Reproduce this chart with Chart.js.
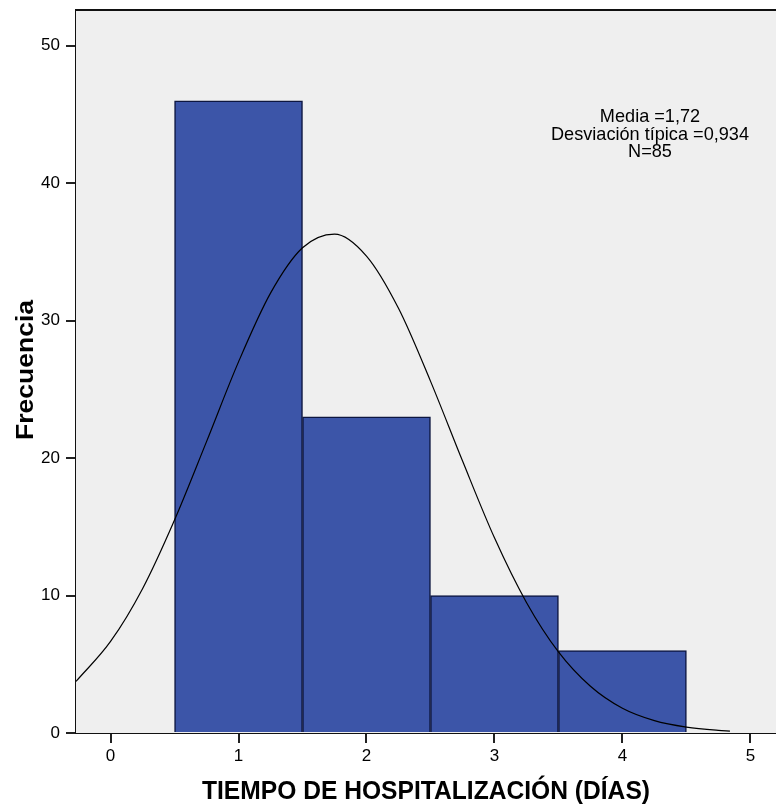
<!DOCTYPE html>
<html>
<head>
<meta charset="utf-8">
<script src="https://cdn.jsdelivr.net/npm/chart.js@4.4.1/dist/chart.umd.min.js"></script>
<style>
  html, body { margin: 0; padding: 0; background: #ffffff; }
  #wrap { width: 776px; height: 808px; position: relative; }
</style>
</head>
<body>
<div id="wrap"><canvas id="histo"></canvas></div>
<script>
// histogram bins (centres) and frequencies
const binCentres = [1, 2, 3, 4];
const frequencies = [46, 23, 10, 6];

// normal curve
const curveX = [-0.27, 0, 0.25, 0.5, 0.75, 1, 1.25, 1.5, 1.75, 2, 2.25, 2.5, 2.75, 3, 3.25, 3.5, 3.75, 4, 4.25, 4.5, 4.75, 4.84];
const curveY = [3.75, 6.66, 10.5, 15.5, 21.2, 27.0, 32.0, 35.3, 36.3, 34.7, 30.9, 25.6, 19.8, 14.2, 9.5, 5.9, 3.4, 1.8, 0.9, 0.43, 0.19, 0.14];

const xTicks = [0, 1, 2, 3, 4, 5];
const yTicks = [0, 10, 20, 30, 40, 50];
const statLines = ['Media =1,72', 'Desviación típica =0,934', 'N=85'];
const xTitle = 'TIEMPO DE HOSPITALIZACIÓN (DÍAS)';
const yTitle = 'Frecuencia';

const font = "'Liberation Sans', Arial, sans-serif";

// draw text squeezed to a given width (the original uses a narrow face)
function fitText(ctx, text, cx, baseY, width) {
  const w = ctx.measureText(text).width;
  const sx = width ? width / w : 1;
  ctx.save();
  ctx.translate(cx, baseY);
  ctx.scale(sx, 1);
  ctx.fillText(text, 0, 0);
  ctx.restore();
}

const frameAndText = {
  id: 'frameAndText',
  beforeDatasetsDraw(chart) {
    const { ctx, chartArea } = chart;
    ctx.save();
    ctx.fillStyle = '#efefef';
    ctx.fillRect(chartArea.left, chartArea.top, chartArea.right - chartArea.left, chartArea.bottom - chartArea.top);
    ctx.restore();
  },
  afterDraw(chart) {
    const { ctx, chartArea } = chart;
    ctx.save();
    ctx.strokeStyle = '#111';
    ctx.lineWidth = 2;
    ctx.beginPath();
    ctx.moveTo(chartArea.left, chartArea.top);
    ctx.lineTo(chartArea.right, chartArea.top);
    ctx.stroke();

    ctx.fillStyle = '#000';
    ctx.textAlign = 'center';
    ctx.textBaseline = 'alphabetic';

    // stats box
    ctx.font = '19px ' + font;
    const full = ctx.measureText(statLines[1]).width;
    const sx = 198 / full;
    statLines.forEach((t, i) => {
      ctx.save();
      ctx.translate(650, 122 + i * 17.5);
      ctx.scale(sx, 1);
      ctx.fillText(t, 0, 0);
      ctx.restore();
    });

    // axis titles
    ctx.font = 'bold 26px ' + font;
    fitText(ctx, xTitle, 426, 799, 448);

    ctx.save();
    ctx.font = 'bold 24px ' + font;
    ctx.translate(33, 370);
    ctx.rotate(-Math.PI / 2);
    fitText(ctx, yTitle, 0, 0, 140);
    ctx.restore();

    ctx.restore();
  }
};

const ctx = document.getElementById('histo').getContext('2d');

new Chart(ctx, {
  type: 'bar',
  data: {
    datasets: [{
      type: 'bar',
      data: binCentres.map((x, i) => ({ x: x, y: frequencies[i] })),
      backgroundColor: '#3c55a8',
      borderColor: '#0d1640',
      borderWidth: 1.5,
      barPercentage: 1,
      categoryPercentage: 1,
      order: 2
    }, {
      type: 'line',
      data: curveX.map((x, i) => ({ x: x, y: curveY[i] })),
      borderColor: '#000',
      borderWidth: 1.2,
      pointRadius: 0,
      cubicInterpolationMode: 'monotone',
      fill: false,
      order: 1
    }]
  },
  options: {
    responsive: true,
    maintainAspectRatio: false,
    animation: false,
    layout: { padding: { top: 10, right: 0, left: 0, bottom: 0 } },
    plugins: {
      legend: { display: false },
      tooltip: { enabled: false }
    },
    scales: {
      x: {
        type: 'linear',
        offset: false,
        min: -0.27,
        max: 5.2,
        afterBuildTicks: scale => { scale.ticks = xTicks.map(v => ({ value: v })); },
        afterFit: scale => { scale.height = 75; scale.paddingLeft = 0; scale.paddingRight = 0; },
        grid: { offset: false, drawOnChartArea: false, drawTicks: true, tickLength: 10, color: '#222', lineWidth: 2 },
        border: { color: '#111', width: 2 },
        ticks: { color: '#000', font: { size: 17, family: font }, padding: 3, maxRotation: 0 }
      },
      y: {
        min: 0,
        max: 52.6,
        afterBuildTicks: scale => { scale.ticks = yTicks.map(v => ({ value: v })); },
        afterFit: scale => { scale.width = 76; scale.paddingTop = 0; scale.paddingBottom = 0; },
        grid: { drawOnChartArea: false, drawTicks: true, tickLength: 10, color: '#222', lineWidth: 2 },
        border: { color: '#111', width: 2 },
        ticks: { color: '#000', font: { size: 17, family: font }, padding: 6 }
      }
    }
  },
  plugins: [frameAndText]
});
</script>
</body>
</html>
